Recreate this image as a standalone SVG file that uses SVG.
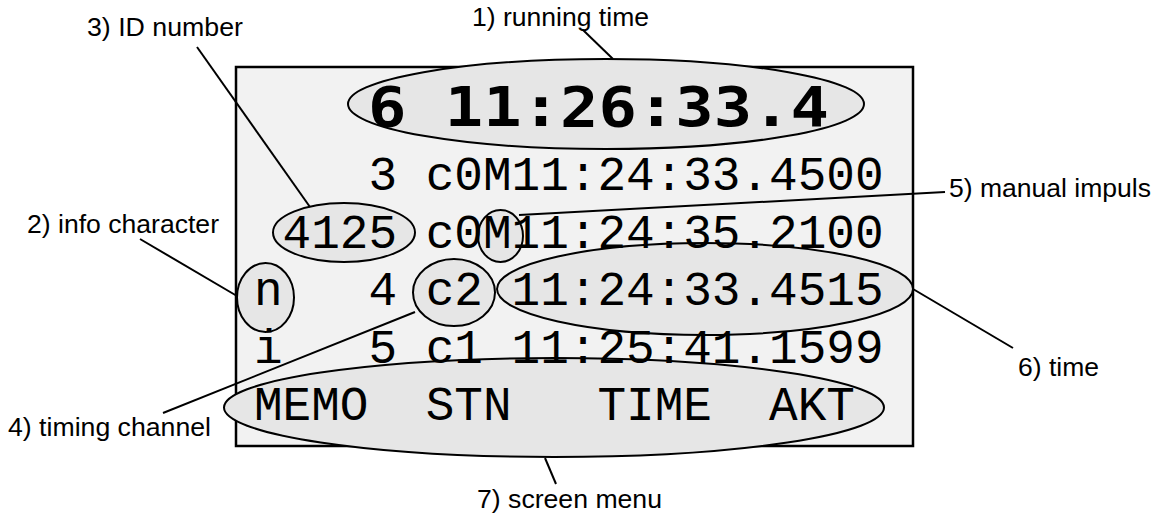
<svg xmlns="http://www.w3.org/2000/svg" width="1160" height="515" viewBox="0 0 1160 515">
<style>
.box{fill:#f2f2f2;stroke:#000;stroke-width:2.5}
.hl{fill:#e6e6e6;stroke:#000;stroke-width:2}
.mono{font-family:"Liberation Mono","Courier New",monospace;font-size:47.7px;fill:#000;white-space:pre}
.big{font-family:"DejaVu Sans Mono",monospace;font-weight:bold;font-size:56px;fill:#000}
.lbl{font-family:"Liberation Sans",Arial,sans-serif;font-size:25px;fill:#000}
.conn line{stroke:#000;stroke-width:2;fill:none}
</style>
<g id="screen">
<rect class="box" x="236" y="67" width="677" height="379"/>
</g>
<g id="n1-running-time">
<ellipse class="hl" cx="606" cy="104" rx="258" ry="45"/>
<text class="lbl" x="472" y="26" textLength="177" lengthAdjust="spacingAndGlyphs">1) running time</text>
</g>
<g id="n3-id-number">
<ellipse class="hl" cx="344" cy="232.5" rx="71" ry="29.5"/>
<text class="lbl" x="87" y="36" textLength="156" lengthAdjust="spacingAndGlyphs">3) ID number</text>
</g>
<g id="n5-manual-impuls">
<ellipse class="hl" cx="500.5" cy="236" rx="22.5" ry="26"/>
<text class="lbl" x="949" y="197" textLength="202" lengthAdjust="spacingAndGlyphs">5) manual impuls</text>
</g>
<g id="n6-time">
<ellipse class="hl" cx="705" cy="289" rx="208" ry="46"/>
<text class="lbl" x="1018" y="376" textLength="81" lengthAdjust="spacingAndGlyphs">6) time</text>
</g>
<g id="n2-info-character">
<ellipse class="hl" cx="265.5" cy="297.5" rx="28.5" ry="34.5"/>
<text class="lbl" x="27" y="233" textLength="192" lengthAdjust="spacingAndGlyphs">2) info character</text>
</g>
<g id="n4-timing-channel">
<ellipse class="hl" cx="454" cy="292.5" rx="41" ry="33.5"/>
<text class="lbl" x="8" y="436" textLength="203" lengthAdjust="spacingAndGlyphs">4) timing channel</text>
</g>
<g id="n7-screen-menu">
<ellipse class="hl" cx="554" cy="407.5" rx="330" ry="49.5"/>
<text class="lbl" x="477" y="508" textLength="185" lengthAdjust="spacingAndGlyphs">7) screen menu</text>
</g>
<g id="display-text">
<text class="big" x="368" y="126" textLength="461" lengthAdjust="spacingAndGlyphs">6 11:26:33.4</text>
<text class="mono" x="254" y="190" xml:space="preserve">    3 c0M11:24:33.4500</text>
<text class="mono" x="254" y="247.5" xml:space="preserve"> 4125 c0M11:24:35.2100</text>
<text class="mono" x="254" y="305" xml:space="preserve">n   4 c2 11:24:33.4515</text>
<text class="mono" x="254" y="362.5" xml:space="preserve">i   5 c1 11:25:41.1599</text>
<text class="mono" x="254" y="420" xml:space="preserve">MEMO  STN   TIME  AKT</text>
</g>
<g id="connectors" class="conn">
<line x1="583" y1="30" x2="613" y2="59"/>
<line x1="197" y1="47" x2="310" y2="207"/>
<line x1="140" y1="239" x2="237" y2="296"/>
<line x1="945" y1="192" x2="519" y2="215"/>
<line x1="913" y1="289" x2="1013" y2="348"/>
<line x1="163" y1="413" x2="415" y2="312"/>
<line x1="545" y1="458" x2="556" y2="484"/>
</g>
</svg>
